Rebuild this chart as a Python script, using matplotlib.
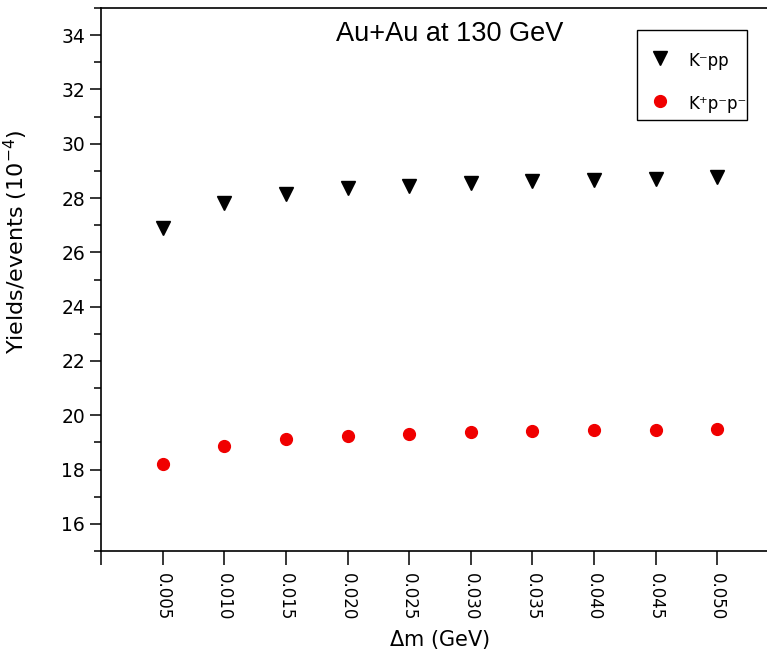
import matplotlib
matplotlib.use("Agg")
import matplotlib.pyplot as plt
from matplotlib.patches import Rectangle
from matplotlib.ticker import MultipleLocator

# values
dm = [0.005, 0.010, 0.015, 0.020, 0.025, 0.030, 0.035, 0.040, 0.045, 0.050]
kpp = [26.91, 27.82, 28.16, 28.36, 28.46, 28.55, 28.62, 28.68, 28.72, 28.77]
kpbar = [18.19, 18.86, 19.12, 19.25, 19.32, 19.37, 19.42, 19.45, 19.46, 19.48]
xticks = [0.0] + dm
xticklabels = [""] + ["%.3f" % v for v in dm]

plt.rcParams["font.family"] = "DejaVu Sans"

fig = plt.figure(figsize=(7.67, 6.55), dpi=100)
ax = fig.add_axes([101 / 767, 104 / 655, 678 / 767, 543 / 655])

ax.plot(dm, kpp, linestyle="none", marker="v", ms=9.5, color="black",
        label="K\u207bpp")
ax.plot(dm, kpbar, linestyle="none", marker="o", ms=8.5, color="#f00000",
        mec="#f00000", label="K\u207ap\u207bp\u207b")

ax.set_xlim(0, 0.055)
ax.set_ylim(15, 35)
ax.set_xticks(xticks)
ax.set_xticklabels(xticklabels, rotation=270, fontsize=12)
ax.yaxis.set_major_locator(MultipleLocator(2))
ax.yaxis.set_minor_locator(MultipleLocator(1))
ax.set_yticks(range(16, 35, 2))
ax.tick_params(axis="y", labelsize=13.5, length=8, width=1.1)
ax.tick_params(axis="y", which="minor", length=5, width=1.1)
ax.tick_params(axis="x", length=10, width=1.1, pad=6)
for s in ax.spines.values():
    s.set_linewidth(1.2)

ax.set_xlabel(r"$\Delta$m (GeV)", fontsize=15, labelpad=5)
ax.set_ylabel(r"Yields/events (10$^{-4}$)", fontsize=16)
ax.yaxis.set_label_coords(-0.105, 0.57)

ax.text(0.515, 0.952, "Au+Au at 130 GeV", transform=ax.transAxes,
        ha="center", va="center", fontsize=19.5, family="Liberation Sans")

# legend without its own frame, boxed by a plain rectangle
ax.legend(loc="upper left", bbox_to_anchor=(0.795, 0.9217), frameon=False,
          fontsize=12, borderpad=0, borderaxespad=0, handlelength=2.4,
          handleheight=1.5, handletextpad=0.5, labelspacing=1.32)
ax.add_patch(Rectangle((0.7906, 0.7937), 0.1622, 0.1658,
                       transform=ax.transAxes, fill=False, lw=1.0,
                       ec="black", clip_on=False))

fig.savefig("out.png", dpi=100)
